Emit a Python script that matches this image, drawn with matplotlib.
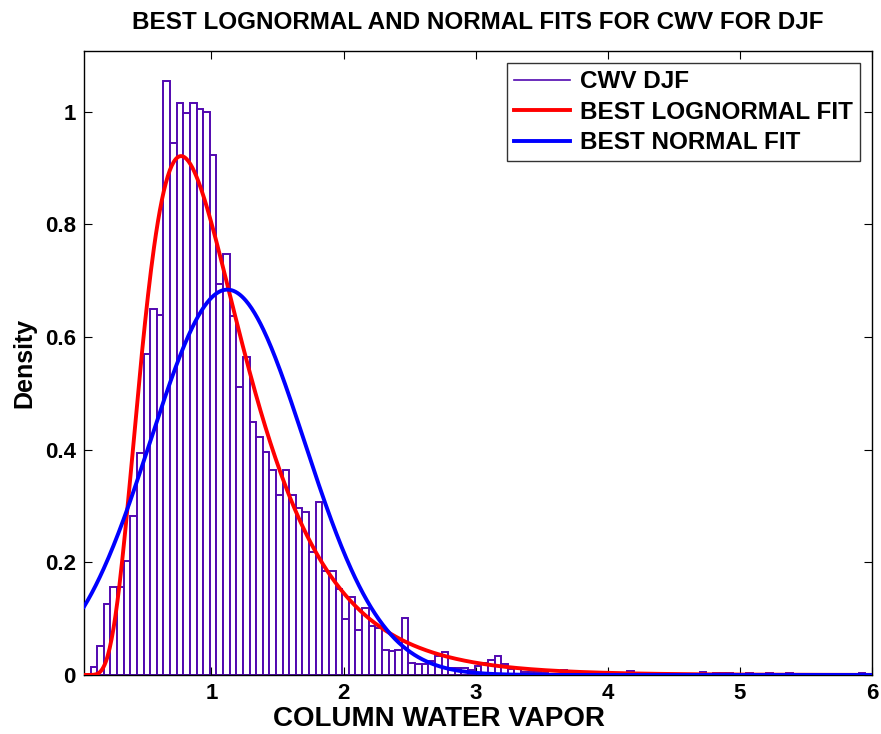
import numpy as np
import matplotlib
matplotlib.use("Agg")
import matplotlib.pyplot as plt
from matplotlib.lines import Line2D

# histogram of CWV (DJF), density per bin
x_lo, x_hi = 0.035, 6.0
density = [
    0.000, 0.015, 0.051, 0.126, 0.157, 0.157, 0.203, 0.283, 0.394, 0.570,
    0.650, 0.639, 1.055, 0.945, 1.015, 0.998, 1.015, 1.005, 0.999, 0.924,
    0.695, 0.747, 0.638, 0.511, 0.565, 0.450, 0.422, 0.396, 0.364, 0.319,
    0.364, 0.319, 0.297, 0.290, 0.219, 0.308, 0.185, 0.185, 0.153, 0.100,
    0.138, 0.079, 0.119, 0.087, 0.083, 0.045, 0.042, 0.045, 0.102, 0.022,
    0.019, 0.019, 0.025, 0.033, 0.040, 0.012, 0.012, 0.013, 0.008, 0.016,
    0.021, 0.027, 0.034, 0.019, 0.010, 0.013, 0.006, 0.005, 0.006, 0.003,
    0.002, 0.002, 0.008, 0.002, 0.001, 0.000, 0.001, 0.000, 0.000, 0.001,
    0.000, 0.000, 0.007, 0.000, 0.000, 0.000, 0.000, 0.000, 0.000, 0.000,
    0.000, 0.000, 0.000, 0.006, 0.000, 0.004, 0.004, 0.004, 0.000, 0.000,
    0.004, 0.000, 0.000, 0.004, 0.000, 0.000, 0.004, 0.000, 0.002, 0.000,
    0.000, 0.000, 0.000, 0.000, 0.000, 0.000, 0.000, 0.003, 0.002,
]

logn_mu, logn_sigma = -0.0144, 0.497
norm_mu, norm_sigma = 1.12, 0.583

legend_labels = ["CWV DJF", "BEST LOGNORMAL FIT", "BEST NORMAL FIT"]

plt.rcParams["font.family"] = ["Liberation Sans", "DejaVu Sans"]
plt.rcParams["font.weight"] = "bold"

fig = plt.figure(figsize=(8.81, 7.34), dpi=100)
ax = fig.add_axes([0.0953, 0.0804, 0.8945, 0.8501])

edges = np.linspace(x_lo, x_hi, len(density) + 1)
ax.bar(edges[:-1], density, width=np.diff(edges), align="edge",
       facecolor="white", edgecolor="#5208b0", linewidth=1.4, zorder=1)

xs = np.linspace(x_lo, x_hi, 800)
logn_pdf = np.exp(-(np.log(xs) - logn_mu) ** 2 / (2 * logn_sigma ** 2)) / (xs * logn_sigma * np.sqrt(2 * np.pi))
norm_pdf = np.exp(-(xs - norm_mu) ** 2 / (2 * norm_sigma ** 2)) / (norm_sigma * np.sqrt(2 * np.pi))
ax.plot(xs, logn_pdf, color="red", linewidth=2.8, zorder=3)
ax.plot(xs, norm_pdf, color="blue", linewidth=2.8, zorder=3)

ax.set_xlim(x_lo, x_hi)
ax.set_ylim(0, 1.108)
ax.set_xticks([1, 2, 3, 4, 5, 6])
ax.set_yticks([0, 0.2, 0.4, 0.6, 0.8, 1])
ax.set_yticklabels(["0", "0.2", "0.4", "0.6", "0.8", "1"])
ax.tick_params(direction="in", length=6, width=0.8, labelsize=16,
               top=True, right=True, pad=6)
for s in ax.spines.values():
    s.set_linewidth(1.0)

ax.set_title("BEST LOGNORMAL AND NORMAL FITS FOR CWV FOR DJF",
             fontsize=17.5, fontweight="bold", pad=16)
ax.set_xlabel("COLUMN WATER VAPOR", fontsize=20, fontweight="bold")
# label sits a bit left of the axes centre in the original
ax.xaxis.set_label_coords(0.45, -0.05)
ax.set_ylabel("Density", fontsize=18, fontweight="bold", labelpad=6)

handles = [Line2D([], [], color="#5208b0", linewidth=1.2),
           Line2D([], [], color="red", linewidth=2.8),
           Line2D([], [], color="blue", linewidth=2.8)]
leg = ax.legend(handles, legend_labels, loc="upper right", fontsize=17.5,
                frameon=True, fancybox=False, edgecolor="black",
                borderpad=0.3, labelspacing=0.3, handlelength=2.3,
                handletextpad=0.4, borderaxespad=0.5)
leg.get_frame().set_linewidth(1.0)

fig.savefig("out.png", dpi=100)
